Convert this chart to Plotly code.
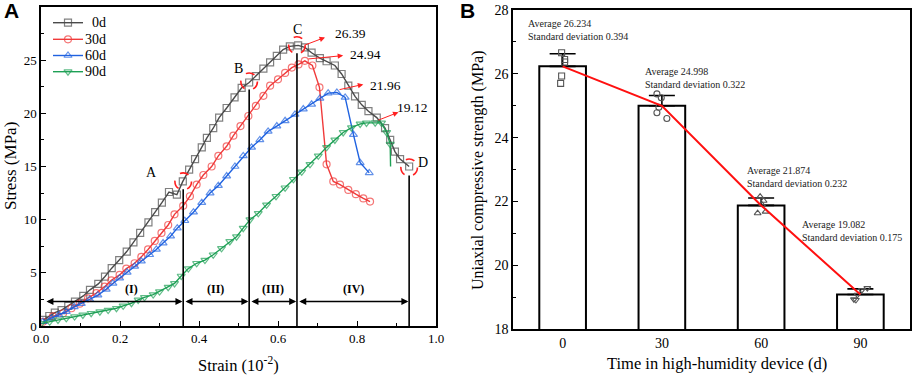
import plotly.graph_objects as go

# ---------------- Panel A data ----------------
strain_0d = [0.006,0.021,0.035,0.052,0.069,0.086,0.107,0.124,0.145,0.162,0.179,0.198,0.217,0.234,0.251,0.272,0.289,0.306,0.324,0.344,0.359,
             0.375,0.39,0.407,0.42,0.436,0.451,0.47,0.49,0.508,0.527,0.544,0.563,0.58,0.597,0.613,0.63,0.651,0.668,0.685,0.706,0.723,0.744,
             0.761,0.778,0.795,0.812,0.829,0.85,0.871,0.884,0.896,0.909,0.932]
stress_0d = [0.57,0.94,1.25,1.5,1.9,2.3,2.83,3.4,3.96,4.65,5.44,6.2,7.0,7.86,8.75,9.75,10.7,11.6,12.6,12.35,13.6,
             14.7,15.7,16.8,17.7,18.6,19.6,20.5,21.5,22.4,22.9,23.5,24.2,24.8,25.4,26.0,26.3,26.39,26.2,25.7,25.2,24.9,24.5,
             23.7,22.6,21.6,20.8,20.2,19.6,18.6,17.5,16.4,15.7,15.0]

strain_30d = [0.005,0.03,0.056,0.077,0.098,0.119,0.14,0.161,0.178,0.199,0.216,0.237,0.254,0.271,0.288,0.305,0.322,0.338,0.36,
              0.377,0.394,0.411,0.432,0.449,0.47,0.487,0.505,0.525,0.544,0.563,0.58,0.6,0.618,0.635,0.652,0.668,0.687,0.705,
              0.723,0.74,0.757,0.778,0.797,0.816,0.833]
stress_30d = [0.4,0.9,1.2,1.67,2.1,2.6,3.1,3.7,4.3,4.8,5.4,5.9,6.5,7.2,8.0,8.75,9.5,10.5,11.3,
              12.2,13.3,14.2,15.0,16.0,16.9,17.9,18.8,19.75,20.7,21.65,22.6,23.2,23.8,24.3,24.6,24.94,24.5,22.45,
              15.2,13.6,13.3,12.8,12.4,12.0,11.7]

strain_60d = [0.005,0.026,0.045,0.064,0.084,0.102,0.123,0.144,0.165,0.182,0.199,0.218,0.237,0.254,0.275,0.292,0.309,0.328,0.345,
              0.364,0.386,0.407,0.428,0.449,0.47,0.491,0.512,0.533,0.554,0.575,0.597,0.618,0.643,0.664,0.685,0.706,0.727,0.749,
              0.77,0.791,0.808,0.831]
stress_60d = [0.4,0.72,1.04,1.35,1.8,2.1,2.5,2.9,3.45,4.0,4.5,5.05,5.6,6.1,6.7,7.2,7.8,8.45,9.2,
              9.9,10.7,11.6,12.5,13.2,14.1,15.0,16.0,16.8,17.5,18.3,18.8,19.3,19.9,20.4,20.85,21.4,21.9,21.96,
              21.5,18.0,15.35,14.4]

strain_90d = [0.001,0.022,0.043,0.064,0.085,0.106,0.127,0.149,0.17,0.191,0.208,0.229,0.246,0.262,0.284,0.3,0.322,0.338,0.355,
              0.373,0.394,0.415,0.436,0.457,0.478,0.495,0.512,0.529,0.55,0.571,0.595,0.618,0.639,0.66,0.681,0.702,0.723,0.744,
              0.765,0.786,0.808,0.824,0.846,0.862,0.875,0.884,0.885]
stress_90d = [0.25,0.4,0.57,0.72,0.88,1.04,1.2,1.35,1.5,1.67,1.9,2.14,2.45,2.7,2.95,3.24,3.65,4.0,4.7,
              5.4,5.9,6.2,6.7,7.3,7.95,8.4,9.2,10.0,10.6,11.4,12.2,13.0,13.8,14.5,15.2,16.0,16.8,17.5,
              18.2,18.65,19.0,19.1,19.12,19.1,18.2,17.1,15.0]

# stage boundaries (points A, B, C, D)
point_names = ["A", "B", "C", "D"]
point_strain = [0.36, 0.527, 0.648, 0.932]
point_stress = [13.6, 23.0, 26.4, 14.9]
stage_names = ["(I)", "(II)", "(III)", "(IV)"]
stage_start = [0.008, 0.36, 0.527, 0.648]
stage_label_x = [0.23, 0.443, 0.588, 0.79]
stage_level = 2.3

peak_labels = ["26.39", "24.94", "21.96", "19.12"]
peak_from = [(0.663, 26.35), (0.673, 25.1), (0.752, 22.2), (0.85, 19.3)]
peak_to = [(0.719, 27.14), (0.765, 25.43), (0.816, 22.72), (0.905, 20.1)]
peak_text = [(0.74, 27.5), (0.778, 25.57), (0.828, 22.64), (0.896, 20.55)]

# ---------------- Panel B data ----------------
days = ["0", "30", "60", "90"]
means = [26.234, 24.998, 21.874, 19.082]
sds = [0.394, 0.322, 0.232, 0.175]
samples = [[26.66, 26.45, 26.37, 25.93, 25.70],
           [25.37, 25.25, 24.95, 24.78, 24.60],
           [22.15, 22.02, 21.89, 21.68, 21.63],
           [19.28, 19.22, 19.07, 18.93, 18.91]]
jitter = [[-0.01, 0.02, 0.02, -0.01, -0.02],
          [-0.05, -0.006, -0.03, -0.05, 0.05],
          [-0.01, 0.025, 0.01, 0.045, -0.035],
          [0.07, 0.015, -0.03, -0.065, -0.045]]
sample_symbols = ["square-open", "circle-open", "triangle-up-open", "triangle-down-open"]

SERIF = "Liberation Serif, Times New Roman, serif"
SANS = "Liberation Sans, Arial, sans-serif"
W, H = 913, 377

fig = go.Figure()

series = [
    ("0d", strain_0d, stress_0d, "#4a4a4a", "square-open"),
    ("30d", strain_30d, stress_30d, "#f03a3a", "circle-open"),
    ("60d", strain_60d, stress_60d, "#1f62e0", "triangle-up-open"),
    ("90d", strain_90d, stress_90d, "#1ea055", "triangle-down-open"),
]
for name, xs, ys, col, sym in series:
    sizes = [7] * len(xs)
    if name == "90d":
        sizes[-1] = 0
    fig.add_trace(go.Scatter(
        x=xs, y=ys, mode="lines+markers", name=name, showlegend=False,
        line=dict(color=col, width=1.4),
        marker=dict(symbol=sym, size=sizes, color=col, line=dict(color=col, width=1.2)),
        xaxis="x", yaxis="y"))

# manual legend on a pixel-coordinate overlay axis
legend_rows = [22.7, 39.3, 55.5, 71.7]
for (name, xs, ys, col, sym), ly in zip(series, legend_rows):
    fig.add_trace(go.Scatter(
        x=[53, 68, 83], y=[ly, ly, ly], mode="lines+markers", showlegend=False, hoverinfo="skip",
        line=dict(color=col, width=1.4),
        marker=dict(symbol=sym, size=[0, 7, 0], color=col, line=dict(color=col, width=1.2)),
        xaxis="x3", yaxis="y3"))

# Panel B traces
fig.add_trace(go.Bar(
    x=[0, 1, 2, 3], y=means, width=0.47,
    marker=dict(color="white", line=dict(color="black", width=2)),
    error_y=dict(type="data", array=sds, arrayminus=[0, 0, 0, 0], symmetric=False,
                 color="black", thickness=1.6, width=13),
    xaxis="x2", yaxis="y2", showlegend=False))
for i in range(4):
    fig.add_trace(go.Scatter(
        x=[i + j for j in jitter[i]], y=samples[i], mode="markers",
        marker=dict(symbol=sample_symbols[i], size=6, color="#555555",
                    line=dict(color="#555555", width=1.1)),
        xaxis="x2", yaxis="y2", showlegend=False))
fig.add_trace(go.Scatter(
    x=[0, 1, 2, 3], y=means, mode="lines", line=dict(color="#ff1010", width=2),
    xaxis="x2", yaxis="y2", showlegend=False))

shapes = []
annotations = []
# vertical stage lines and dashed circles
for nm, sx, sy in zip(point_names, point_strain, point_stress):
    top = sy - 0.75
    shapes.append(dict(type="line", xref="x", yref="y", x0=sx, x1=sx, y0=0, y1=top,
                       line=dict(color="black", width=1.6)))
    shapes.append(dict(type="circle", xref="x", yref="y",
                       x0=sx - 0.021, x1=sx + 0.021, y0=sy - 0.8, y1=sy + 0.8,
                       line=dict(color="#ff2020", width=1.6, dash="dash")))
letter_pos = {"A": (0.28, 14.4), "B": (0.5, 24.2), "C": (0.65, 27.9), "D": (0.966, 15.4)}
for nm in point_names:
    lx, ly = letter_pos[nm]
    annotations.append(dict(x=lx, y=ly, xref="x", yref="y", text=nm, showarrow=False,
                            font=dict(family=SERIF, size=14, color="black")))

# stage double arrows
stage_end = stage_start[1:] + [point_strain[-1]]
for nm, s0, s1, lx in zip(stage_names, stage_start, stage_end, stage_label_x):
    annotations.append(dict(x=s1 - 0.002, y=stage_level, ax=s0 + 0.002, ay=stage_level,
                            xref="x", yref="y", axref="x", ayref="y", text="",
                            showarrow=True, arrowhead=2, startarrowhead=2, arrowside="end+start",
                            arrowsize=1, startarrowsize=1, arrowwidth=1.4, arrowcolor="black",
                            standoff=0, startstandoff=0))
    annotations.append(dict(x=lx, y=stage_level + 1.15, xref="x", yref="y", text="<b>" + nm + "</b>",
                            showarrow=False, font=dict(family=SERIF, size=12, color="black")))

# peak arrows
for lab, (fx, fy), (tx, ty), (lx, ly) in zip(peak_labels, peak_from, peak_to, peak_text):
    annotations.append(dict(x=tx, y=ty, ax=fx, ay=fy, xref="x", yref="y", axref="x", ayref="y",
                            text="", showarrow=True, arrowhead=2, arrowsize=1.1, arrowwidth=1,
                            arrowcolor="#ff2020", standoff=0))
    annotations.append(dict(x=lx, y=ly, xref="x", yref="y", text=lab, showarrow=False,
                            xanchor="left", yanchor="middle",
                            font=dict(family=SERIF, size=13.5, color="black")))

# legend texts
for (name, *_), ly in zip(series, legend_rows):
    annotations.append(dict(x=108, y=ly, xref="x3", yref="y3", text=name, showarrow=False,
                            xanchor="right", yanchor="middle",
                            font=dict(family=SERIF, size=14, color="black")))

# panel B text
b_text_pos = [(-0.37, 27.36), (0.81, 25.88), (1.84, 22.76), (2.39, 21.08)]
for (bx, by), m, s in zip(b_text_pos, means, sds):
    annotations.append(dict(x=bx, y=by, xref="x2", yref="y2", xanchor="left", yanchor="middle",
                            align="left", showarrow=False,
                            text=f"Average {m:.3f}<br>Standard deviation {s:.3f}",
                            font=dict(family=SERIF, size=10, color="#222")))

# axis titles and panel letters
def px(xp, yp):
    return xp / W, 1 - yp / H
for txt, (xp, yp), ang, sz in [
    ("Stress (MPa)", (10, 166), -90, 17),
    ("Strain (10<sup>-2</sup>)", (238, 364), 0, 16.5),
    ("Uniaxial compressive strength (MPa)", (478, 170), -90, 16),
    ("Time in high-humidity device (d)", (717, 363), 0, 16.5),
]:
    x_, y_ = px(xp, yp)
    annotations.append(dict(x=x_, y=y_, xref="paper", yref="paper", text=txt, showarrow=False,
                            textangle=ang, font=dict(family=SERIF, size=sz, color="black"),
                            xanchor="center", yanchor="middle"))
for txt, (xp, yp) in [("A", (11, 10)), ("B", (467, 10))]:
    x_, y_ = px(xp, yp)
    annotations.append(dict(x=x_, y=y_, xref="paper", yref="paper", text="<b>" + txt + "</b>",
                            showarrow=False, font=dict(family=SANS, size=21, color="black"),
                            xanchor="center", yanchor="middle"))

axis_common = dict(showline=True, linecolor="black", linewidth=1.5, mirror=True,
                   showgrid=False, zeroline=False, ticks="inside", ticklen=5, tickwidth=1.2,
                   tickcolor="black", automargin=False)

fig.update_layout(
    width=W, height=H, margin=dict(l=0, r=0, t=0, b=0, autoexpand=False),
    paper_bgcolor="white", plot_bgcolor="rgba(0,0,0,0)",
    font=dict(family=SERIF, color="black"),
    xaxis=dict(domain=[41 / W, 436 / W], range=[0, 1.0], tickvals=[0, 0.2, 0.4, 0.6, 0.8, 1.0],
               tickformat=".1f", tickfont=dict(size=13, family=SERIF),
               minor=dict(ticks="inside", dtick=0.1, ticklen=3, tickcolor="black"),
               anchor="y", **axis_common),
    yaxis=dict(domain=[1 - 326 / H, 1 - 7 / H], range=[0, 30], tickvals=[0, 5, 10, 15, 20, 25, 30],
               tickfont=dict(size=13, family=SERIF),
               minor=dict(ticks="inside", dtick=2.5, ticklen=3, tickcolor="black"),
               anchor="x", **axis_common),
    xaxis2=dict(domain=[513 / W, 910 / W], range=[-0.5, 3.5], tickvals=[0, 1, 2, 3], ticktext=days,
                tickfont=dict(size=14, family=SERIF), anchor="y2", automargin=False,
                showline=True, linecolor="black", linewidth=1.5, mirror=True,
                showgrid=False, zeroline=False, ticks=""),
    yaxis2=dict(domain=[1 - 329 / H, 1 - 10 / H], range=[18, 28], tickvals=[18, 20, 22, 24, 26, 28],
                tickfont=dict(size=14, family=SERIF),
                minor=dict(ticks="inside", dtick=1, ticklen=3, tickcolor="black"),
                anchor="x2", **axis_common),
    xaxis3=dict(domain=[0, 1], range=[0, W], visible=False, fixedrange=True, anchor="y3", automargin=False),
    yaxis3=dict(domain=[0, 1], range=[H, 0], visible=False, fixedrange=True, anchor="x3", automargin=False),
    showlegend=False,
    shapes=shapes, annotations=annotations,
)

fig.write_html("out.html", config={"displayModeBar": False},
               post_script="document.body.style.margin='0';document.body.style.overflow='hidden';")
